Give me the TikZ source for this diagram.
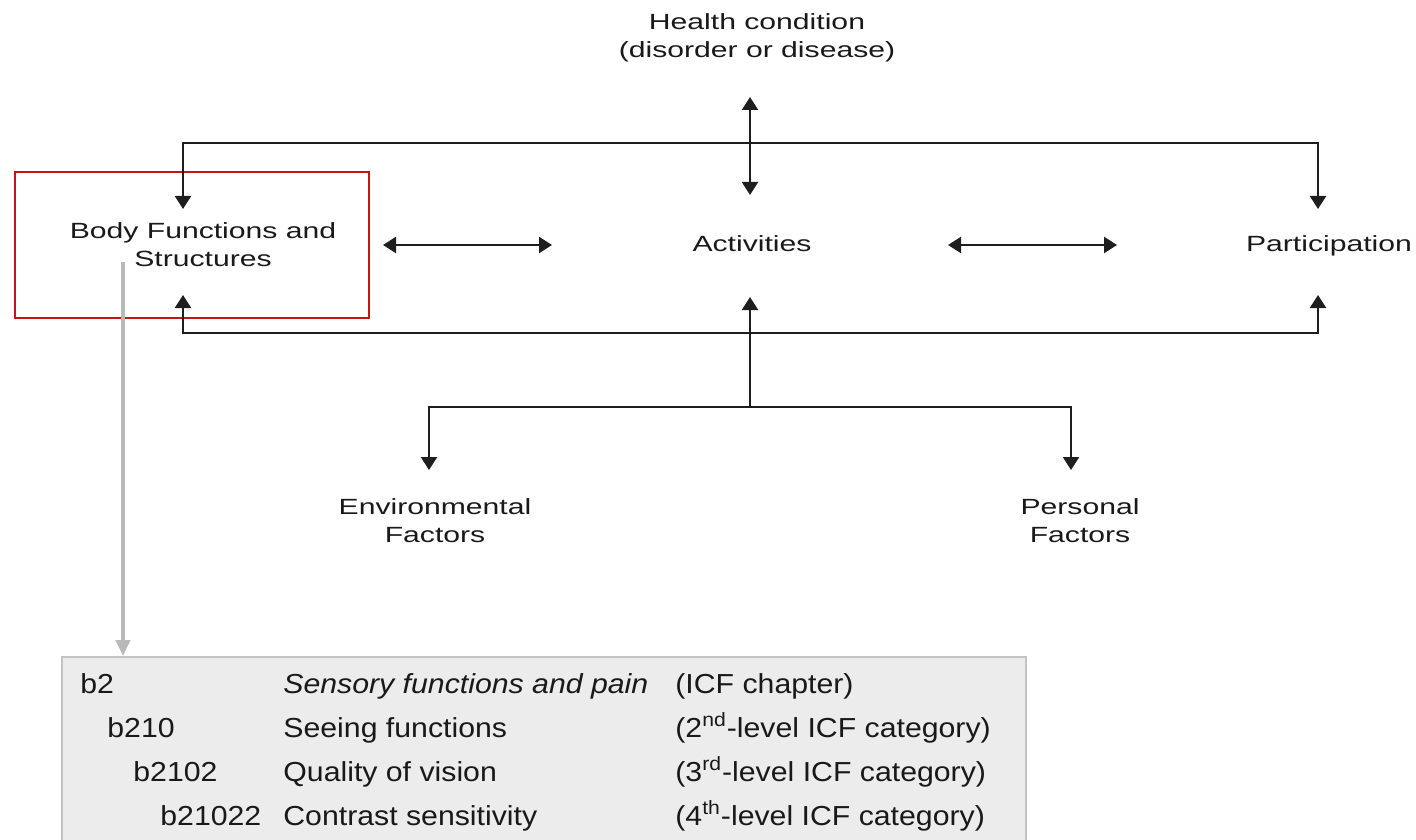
\documentclass[tikz,border=0pt]{standalone}
\usepackage{fontspec}
\setmainfont{Liberation Sans}
\newfontfamily\widefont[FakeStretch=1.37]{Liberation Sans}
\newfontfamily\boxfont[FakeStretch=1.1]{Liberation Sans}
\usetikzlibrary{arrows.meta}
\definecolor{framered}{RGB}{200,20,20}
\definecolor{linegray}{RGB}{30,30,30}
\definecolor{pointergray}{RGB}{185,185,185}
\definecolor{panelfill}{RGB}{236,236,236}
\definecolor{panelline}{RGB}{195,195,195}
\tikzset{
  label/.style={inner sep=0pt, align=center, text=black!90, font=\widefont\fontsize{11}{14}\selectfont},
  row/.style={inner sep=0pt, anchor=base west, text=black!90, font=\boxfont\fontsize{13.75}{16}\selectfont},
  link/.style={draw=linegray, line width=1.15pt},
  tip/.style={-{Triangle[length=6.5pt,width=8pt]}},
  twotip/.style={{Triangle[length=6.5pt,width=8pt]}-{Triangle[length=6.5pt,width=8pt]}},
}
\begin{document}
\begin{tikzpicture}[x=0.5pt,y=-0.5pt]
\useasboundingbox (0,0) rectangle (1416,839);

% ICF detail panel
\path[fill=panelfill, draw=panelline, line width=1pt] (62,657) rectangle (1026,850);

% component labels
\node[label] (hc) at (757,37.5) {Health condition\\(disorder or disease)};
\node[label] (bf) at (203,245) {Body Functions and\\Structures};
\node[label, anchor=base] (act) at (752,252) {Activities};
\node[label, anchor=base] (par) at (1329,252) {Participation};
\node[label] (env) at (435,521) {Environmental\\Factors};
\node[label] (pers) at (1080,521) {Personal\\Factors};

% highlight frame around body functions
\draw[framered, line width=1pt] (15,172) rectangle (369,318);

% connector end points
\coordinate (hcA) at (750,97);
\coordinate (hcB) at (750,195);
\coordinate (bfIn) at (183,209);
\coordinate (parIn) at (1318,209);
\coordinate (topL) at (183,143);
\coordinate (topR) at (1318,143);
\coordinate (bfUp) at (183,295);
\coordinate (parUp) at (1318,295);
\coordinate (botL) at (183,333);
\coordinate (botR) at (1318,333);
\coordinate (actUp) at (750,297);
\coordinate (fork) at (750,407);
\coordinate (forkL) at (429,407);
\coordinate (forkR) at (1071,407);
\coordinate (envIn) at (429,470);
\coordinate (persIn) at (1071,470);
\coordinate (bfR) at (383,245);
\coordinate (actL) at (552,245);
\coordinate (actR) at (948,245);
\coordinate (parL) at (1117,245);
\coordinate (ptrA) at (123,262);
\coordinate (ptrB) at (123,656);

% interactions between components
\draw[link, twotip] (hcA) -- (hcB);
\draw[link, twotip] (bfIn) -- (topL) -- (topR) -- (parIn);
\draw[link, twotip] (bfUp) -- (botL) -- (botR) -- (parUp);
\draw[link, tip] (fork) -- (actUp);
\draw[link, twotip] (envIn) -- (forkL) -- (forkR) -- (persIn);
\draw[link, twotip] (bfR) -- (actL);
\draw[link, twotip] (actR) -- (parL);

% pointer to the classification detail
\draw[pointergray, line width=2pt, -{Triangle[length=8pt,width=7pt]}] (ptrA) -- (ptrB);

% classification rows
\node[row] (c1) at (80,693) {b2};
\node[row] (c2) at (107,737) {b210};
\node[row] (c3) at (133,781) {b2102};
\node[row] (c4) at (160,825) {b21022};
\node[row] (n1) at (283,693) {\itshape Sensory functions and pain};
\node[row] (n2) at (283,737) {Seeing functions};
\node[row] (n3) at (283,781) {Quality of vision};
\node[row] (n4) at (283,825) {Contrast sensitivity};
\node[row] (l1) at (675,693) {(ICF chapter)};
\node[row] (l2) at (675,737) {(2\textsuperscript{nd}-level ICF category)};
\node[row] (l3) at (675,781) {(3\textsuperscript{rd}-level ICF category)};
\node[row] (l4) at (675,825) {(4\textsuperscript{th}-level ICF category)};
\end{tikzpicture}
\end{document}
